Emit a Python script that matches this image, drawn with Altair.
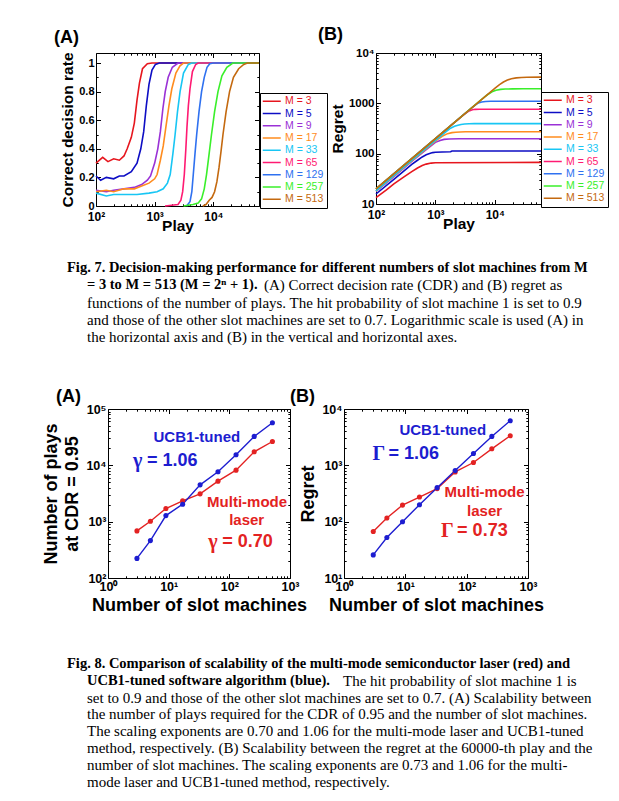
import math
import altair as alt
import pandas as pd

FONT = "Liberation Sans"
SERIF = "Liberation Serif"
RED = "#e32222"
BLUE = "#1d1dd0"

# ---------------- Fig. 7 data ----------------
M_LABELS = ["M = 3", "M = 5", "M = 9", "M = 17", "M = 33", "M = 65", "M = 129", "M = 257", "M = 513"]
M_COLORS = ["#e6161e", "#0d0dc4", "#9a31d6", "#ff8c1e", "#18c6f4", "#ff1a72", "#2f71f0", "#3aef2a", "#c4690f"]

# (A) correct decision rate
CDR_PLAY_3 = [100, 130, 160, 200, 250, 300, 340, 400, 450, 500, 550, 620, 750, 900, 60000]
CDR_3 = [0.30, 0.34, 0.31, 0.33, 0.32, 0.35, 0.40, 0.48, 0.58, 0.74, 0.86, 0.96, 0.995, 1.0, 1.0]
CDR_PLAY_5 = [100, 120, 150, 200, 250, 300, 400, 500, 580, 650, 720, 800, 900, 1030, 1200, 60000]
CDR_5 = [0.21, 0.18, 0.20, 0.19, 0.21, 0.21, 0.24, 0.30, 0.40, 0.52, 0.70, 0.85, 0.95, 0.99, 1.0, 1.0]
CDR_PLAY_9 = [100, 150, 200, 300, 450, 600, 750, 850, 1000, 1130, 1250, 1380, 1513, 1700, 2000, 2500, 60000]
CDR_9 = [0.11, 0.10, 0.11, 0.12, 0.13, 0.15, 0.18, 0.21, 0.30, 0.40, 0.52, 0.68, 0.80, 0.90, 0.97, 1.0, 1.0]
CDR_PLAY_17 = [100, 150, 200, 300, 450, 600, 800, 1000, 1100, 1250, 1400, 1550, 1750, 1960, 2300, 2700, 3100, 60000]
CDR_17 = [0.10, 0.11, 0.10, 0.12, 0.12, 0.14, 0.16, 0.19, 0.22, 0.32, 0.42, 0.55, 0.70, 0.82, 0.93, 0.98, 1.0, 1.0]
CDR_PLAY_33 = [100, 150, 200, 300, 500, 800, 1100, 1400, 1650, 1840, 2050, 2230, 2450, 2710, 3100, 3750, 4300, 60000]
CDR_33 = [0.09, 0.07, 0.08, 0.08, 0.08, 0.09, 0.10, 0.12, 0.16, 0.22, 0.37, 0.50, 0.66, 0.80, 0.93, 0.99, 1.0, 1.0]
CDR_PLAY_65 = [1500, 2500, 2800, 3000, 3200, 3400, 3550, 3750, 4000, 4400, 5000, 5500, 60000]
CDR_65 = [0.0, 0.01, 0.04, 0.10, 0.22, 0.40, 0.55, 0.70, 0.82, 0.94, 0.99, 1.0, 1.0]
CDR_PLAY_129 = [3500, 4000, 4300, 4550, 4900, 5200, 5700, 6300, 7000, 7800, 8700, 10000, 60000]
CDR_129 = [0.0, 0.03, 0.10, 0.22, 0.38, 0.50, 0.66, 0.80, 0.90, 0.97, 0.995, 1.0, 1.0]
CDR_PLAY_257 = [3100, 4500, 5500, 6300, 7000, 7650, 8500, 9300, 10500, 12000, 14000, 17000, 21500, 60000]
CDR_257 = [0.0, 0.01, 0.02, 0.05, 0.12, 0.22, 0.37, 0.50, 0.66, 0.80, 0.91, 0.97, 1.0, 1.0]
CDR_PLAY_513 = [6600, 7500, 8500, 9500, 10500, 11500, 12500, 13500, 14600, 16500, 18900, 22000, 27000, 33000, 38000, 60000]
CDR_513 = [0.0, 0.01, 0.04, 0.06, 0.10, 0.17, 0.27, 0.38, 0.50, 0.66, 0.80, 0.90, 0.96, 0.99, 1.0, 1.0]

# (B) regret
REG_PLAY_3 = [100, 150, 200, 300, 400, 500, 600, 700, 850, 1000, 60000]
REG_3 = [13.4, 19, 25, 35, 44, 52, 58, 62, 65, 66, 67]
REG_PLAY_5 = [100, 200, 300, 400, 500, 600, 700, 800, 900, 1000, 1300, 1800, 1900, 60000]
REG_5 = [15.8, 31, 46, 61, 74, 86, 95, 101, 105, 107, 108, 109, 113, 113]
REG_PLAY_9 = [100, 200, 400, 700, 1000, 1200, 1400, 1700, 2500, 60000]
REG_9 = [17.8, 35, 70, 120, 168, 183, 192, 196, 198, 198]
REG_PLAY_17 = [100, 300, 600, 1000, 1300, 1600, 1900, 2200, 2600, 3200, 60000]
REG_17 = [18, 54, 107, 177, 222, 250, 262, 267, 270, 272, 272]
REG_PLAY_33 = [100, 300, 1000, 1500, 1800, 2100, 2400, 2700, 3100, 3700, 4500, 60000]
REG_33 = [18.2, 55, 183, 270, 320, 350, 368, 380, 388, 393, 395, 395]
REG_PLAY_65 = [100, 1000, 2000, 3000, 3400, 3800, 4200, 4700, 5500, 60000]
REG_65 = [20, 200, 400, 595, 665, 715, 745, 760, 765, 765]
REG_PLAY_129 = [100, 1000, 4000, 4800, 5300, 6000, 7000, 8500, 60000]
REG_129 = [20, 200, 790, 945, 1020, 1065, 1088, 1098, 1100]
REG_PLAY_257 = [100, 1000, 6000, 7500, 9000, 10500, 12500, 15000, 20000, 30000, 60000]
REG_257 = [20, 200, 1200, 1480, 1700, 1820, 1890, 1920, 1940, 1950, 1955]
REG_PLAY_513 = [100, 1000, 10000, 12000, 14000, 16000, 19000, 23000, 28000, 35000, 60000]
REG_513 = [20, 200, 1990, 2350, 2650, 2880, 3080, 3200, 3270, 3300, 3310]

# ---------------- Fig. 8 data ----------------
SLOTS = [3, 5, 9, 17, 33, 65, 129, 257, 513]
PLAYS_LASER = [685, 1018, 1710, 2340, 3118, 5237, 8220, 17400, 26500]
PLAYS_UCB = [223, 461, 1282, 2042, 4508, 7676, 15390, 32600, 57000]
REGRET_LASER = [67, 116, 197, 274, 386, 765, 1122, 1964, 3350]
REGRET_UCB = [25.7, 52.4, 99.5, 200, 402, 807, 1622, 3260, 6200]

ANN_TEXT = ["UCB1-tuned", "Multi-mode", "laser"]
ANN_SERIES = ["ucb", "laser", "laser"]
ANN8A_X = [29.1, 196, 193]
ANN8A_Y = [31500, 2200, 1065]
ANN8B_X = [40.8, 196, 196]
ANN8B_Y = [4300, 341, 155]

EXP_SERIES = ["ucb", "laser"]
EXP8A_GREEK = ["γ", "γ"]
EXP8A_REST = ["= 1.06", "= 0.70"]
EXP8A_X = [2.59, 44.8]
EXP8A_Y = [11780, 427]
EXP8B_GREEK = ["Γ", "Γ"]
EXP8B_REST = ["= 1.06", "= 0.73"]
EXP8B_X = [2.92, 38.3]
EXP8B_Y = [1622, 68]

# ---------------- axis ticks / labels ----------------
X7_TICKS = [100, 1000, 10000]
X7_LABELS = ["10²", "10³", "10⁴"]
Y7A_TICKS = [0, 0.2, 0.4, 0.6, 0.8, 1.0]
Y7A_LABELS = ["0", "0.2", "0.4", "0.6", "0.8", "1"]
Y7B_TICKS = [10, 100, 1000, 10000]
Y7B_LABELS = ["10", "100", "1000", "10⁴"]
X8_TICKS = [1, 10, 100, 1000]
X8_LABELS = ["10⁰", "10¹", "10²", "10³"]
Y8A_TICKS = [100, 1000, 10000, 100000]
Y8A_LABELS = ["10²", "10³", "10⁴", "10⁵"]
Y8B_TICKS = [10, 100, 1000, 10000]
Y8B_LABELS = ["10¹", "10²", "10³", "10⁴"]

# ---------------- captions ----------------
CAP7_BOLD = ["Fig. 7. Decision-making performance for different numbers of slot machines from M",
             "= 3 to M = 513 (M = 2ⁿ + 1)."]
CAP7_REGULAR = ["(A) Correct decision rate (CDR) and (B) regret as",
                "functions of the number of plays. The hit probability of slot machine 1 is set to 0.9",
                "and those of the other slot machines are set to 0.7. Logarithmic scale is used (A) in",
                "the horizontal axis and (B) in the vertical and horizontal axes."]
CAP8_BOLD = ["Fig. 8. Comparison of scalability of the multi-mode semiconductor laser (red) and",
             "UCB1-tuned software algorithm (blue)."]
CAP8_REGULAR = ["The hit probability of slot machine 1 is",
                "set to 0.9 and those of the other slot machines are set to 0.7. (A) Scalability between",
                "the number of plays required for the CDR of 0.95 and the number of slot machines.",
                "The scaling exponents are 0.70 and 1.06 for the multi-mode laser and UCB1-tuned",
                "method, respectively. (B) Scalability between the regret at the 60000-th play and the",
                "number of slot machines. The scaling exponents are 0.73 and 1.06 for the multi-",
                "mode laser and UCB1-tuned method, respectively."]


def log_ticks(lo, hi):
    vals = []
    e = math.floor(math.log10(lo))
    while 10 ** e <= hi:
        for m in range(1, 10):
            v = m * 10 ** e
            if lo <= v <= hi:
                vals.append(v)
        e += 1
    return vals


LOG_MAJOR = "abs(log(datum.value)/LN10 - round(log(datum.value)/LN10)) < 0.000001"
LIN_MAJOR = "abs(datum.value*5 - round(datum.value*5)) < 0.000001"


def label_axis(orient, values, labels, size, title, tsize, tpad, lpad=2, lineheight=None):
    expr = " : ".join(f"datum.value == {v} ? '{l}'" for v, l in zip(values, labels)) + " : ''"
    kw = dict(orient=orient, values=values, labelExpr=expr, ticks=False, domain=False, grid=False,
              labelFont=FONT, labelFontSize=size, labelFontWeight="bold", labelColor="black",
              labelPadding=lpad, labelOverlap=False, labelFlush=False,
              title=title, titleFont=FONT, titleFontSize=tsize, titleFontWeight="bold",
              titleColor="black", titlePadding=tpad)
    if lineheight:
        kw["titleLineHeight"] = lineheight
    return alt.Axis(**kw)


def tick_axis(orient, offset, values, test, major=4.5, minor=2.2):
    return alt.Axis(orient=orient, offset=offset, values=values, labels=False, ticks=True,
                    tickColor="black", tickWidth=1,
                    tickSize={"condition": {"test": test, "value": major}, "value": minor},
                    domain=True, domainColor="black", domainWidth=1, grid=False, title=None)


def framed(data_layers, xs, ys, xdom, ydom, w, h, xaxis, yaxis, xall, yall, xtest, ytest, title, dx, toff):
    fdf = pd.DataFrame({"fx": xdom, "fy": ydom})
    base = alt.Chart(fdf).mark_point(opacity=0)
    lab = base.encode(x=alt.X("fx:Q", scale=xs, axis=xaxis), y=alt.Y("fy:Q", scale=ys, axis=yaxis))
    in1 = base.encode(x=alt.X("fx:Q", scale=xs, axis=tick_axis("top", -h, xall, xtest)),
                      y=alt.Y("fy:Q", scale=ys, axis=tick_axis("right", -w, yall, ytest)))
    in2 = base.encode(x=alt.X("fx:Q", scale=xs, axis=tick_axis("bottom", -h, xall, xtest)),
                      y=alt.Y("fy:Q", scale=ys, axis=tick_axis("left", -w, yall, ytest)))
    return alt.layer(lab, in1, in2, *data_layers).resolve_axis(
        x="independent", y="independent").properties(
        width=w, height=h,
        title=alt.TitleParams(title, anchor="start", frame="group", dx=dx, offset=toff,
                              font=FONT, fontSize=18, fontWeight="bold", color="black"))


def m_legend(lx, ly):
    expr = " : ".join(f"datum.label == '{l}' ? '{c}'" for l, c in zip(M_LABELS, M_COLORS)) + " : 'black'"
    return alt.Legend(orient="none", legendX=lx, legendY=ly, title=None,
                      symbolType="M-3,0H3", symbolSize=36, symbolStrokeWidth=1.5, symbolOffset=3.5,
                      labelFont=FONT, labelFontSize=10.5, labelColor=alt.ExprRef(expr), labelOffset=8,
                      rowPadding=1.25, padding=3, strokeColor="black", fillColor="white")


def long_df(plays, vals):
    rows = []
    for lab, p, v in zip(M_LABELS, plays, vals):
        for a, b in zip(p, v):
            rows.append({"play": a, "value": b, "M": lab})
    return pd.DataFrame(rows)


# ---------------- Fig 7 panels ----------------
X7_DOM = [100, 60000]
X7_ALL = log_ticks(100, 60000)
xs7 = alt.Scale(type="log", domain=X7_DOM)
mcolor_scale = alt.Scale(domain=M_LABELS, range=M_COLORS)

W7A, H7A = 163, 153
df7a = long_df([CDR_PLAY_3, CDR_PLAY_5, CDR_PLAY_9, CDR_PLAY_17, CDR_PLAY_33, CDR_PLAY_65,
                CDR_PLAY_129, CDR_PLAY_257, CDR_PLAY_513],
               [CDR_3, CDR_5, CDR_9, CDR_17, CDR_33, CDR_65, CDR_129, CDR_257, CDR_513])
ys7a = alt.Scale(domain=[0, 1.07])
lines7a = alt.Chart(df7a).mark_line(strokeWidth=1.6).encode(
    x=alt.X("play:Q", scale=xs7, axis=None),
    y=alt.Y("value:Q", scale=ys7a, axis=None),
    color=alt.Color("M:N", scale=mcolor_scale, legend=m_legend(W7A + 1, H7A - 113)))
p7a = framed([lines7a], xs7, ys7a, X7_DOM, [0, 1.07], W7A, H7A,
             label_axis("bottom", X7_TICKS, X7_LABELS, 12, "Play", 15.5, -4, lpad=5),
             label_axis("left", Y7A_TICKS, Y7A_LABELS, 11, "Correct decision rate", 15.5, 3),
             X7_ALL, [round(i * 0.1, 1) for i in range(11)], LOG_MAJOR, LIN_MAJOR, "(A)", -42, 3)

W7B, H7B = 165, 151
df7b = long_df([REG_PLAY_3, REG_PLAY_5, REG_PLAY_9, REG_PLAY_17, REG_PLAY_33, REG_PLAY_65,
                REG_PLAY_129, REG_PLAY_257, REG_PLAY_513],
               [REG_3, REG_5, REG_9, REG_17, REG_33, REG_65, REG_129, REG_257, REG_513])
ys7b = alt.Scale(type="log", domain=[10, 10000])
lines7b = alt.Chart(df7b).mark_line(strokeWidth=1.6).encode(
    x=alt.X("play:Q", scale=xs7, axis=None),
    y=alt.Y("value:Q", scale=ys7b, axis=None),
    color=alt.Color("M:N", scale=mcolor_scale, legend=m_legend(W7B, H7B - 112)))
p7b = framed([lines7b], xs7, ys7b, X7_DOM, [10, 10000], W7B, H7B,
             label_axis("bottom", X7_TICKS, X7_LABELS, 12, "Play", 15.5, -4, lpad=5),
             label_axis("left", Y7B_TICKS, Y7B_LABELS, 11.5, "Regret", 15.5, 3),
             X7_ALL, log_ticks(10, 10000), LOG_MAJOR, LOG_MAJOR, "(B)", -58, 3)

# ---------------- Fig 8 panels ----------------
series_color = alt.Scale(domain=["laser", "ucb"], range=[RED, BLUE])
xs8 = alt.Scale(type="log", domain=[1, 1000])
X8_ALL = log_ticks(1, 1000)


def fig8_layers(yvals_laser, yvals_ucb, ys, ann_x, ann_y, exp_greek, exp_rest, exp_x, exp_y, greek_dx):
    df = pd.DataFrame({"slots": SLOTS + SLOTS, "value": yvals_laser + yvals_ucb,
                       "series": ["laser"] * len(SLOTS) + ["ucb"] * len(SLOTS)})
    col = alt.Color("series:N", scale=series_color, legend=None)
    enc = dict(x=alt.X("slots:Q", scale=xs8, axis=None), y=alt.Y("value:Q", scale=ys, axis=None), color=col)
    ln = alt.Chart(df).mark_line(strokeWidth=1.4).encode(**enc)
    pt = alt.Chart(df).mark_point(filled=True, size=26, opacity=1).encode(**enc)
    ann = pd.DataFrame({"ax": ann_x, "ay": ann_y, "text": ANN_TEXT, "series": ANN_SERIES})
    tx = alt.Chart(ann).mark_text(font=FONT, fontSize=15, fontWeight="bold", align="center",
                                  baseline="middle").encode(
        x=alt.X("ax:Q", scale=xs8, axis=None), y=alt.Y("ay:Q", scale=ys, axis=None),
        text="text:N", color=col)
    ex = pd.DataFrame({"ex": exp_x, "ey": exp_y, "greek": exp_greek, "rest": exp_rest, "series": EXP_SERIES})
    g = alt.Chart(ex).mark_text(font=SERIF, fontSize=20, fontWeight="bold", align="left",
                                baseline="middle").encode(
        x=alt.X("ex:Q", scale=xs8, axis=None), y=alt.Y("ey:Q", scale=ys, axis=None),
        text="greek:N", color=col)
    r = alt.Chart(ex).mark_text(font=FONT, fontSize=18, fontWeight="bold", align="left",
                                baseline="middle", dx=greek_dx).encode(
        x=alt.X("ex:Q", scale=xs8, axis=None), y=alt.Y("ey:Q", scale=ys, axis=None),
        text="rest:N", color=col)
    return [ln, pt, tx, g, r]


W8A, H8A = 182, 169
ys8a = alt.Scale(type="log", domain=[100, 100000])
p8a = framed(fig8_layers(PLAYS_LASER, PLAYS_UCB, ys8a, ANN8A_X, ANN8A_Y, EXP8A_GREEK, EXP8A_REST,
                         EXP8A_X, EXP8A_Y, 14),
             xs8, ys8a, [1, 1000], [100, 100000], W8A, H8A,
             label_axis("bottom", X8_TICKS, X8_LABELS, 12.5, "Number of slot machines", 18, 4),
             label_axis("left", Y8A_TICKS, Y8A_LABELS, 12.5, ["Number of plays", "at CDR = 0.95"], 18, 4,
                        lineheight=21),
             X8_ALL, log_ticks(100, 100000), LOG_MAJOR, LOG_MAJOR, "(A)", -52, -3)

W8B, H8B = 184, 169
ys8b = alt.Scale(type="log", domain=[10, 10000])
p8b = framed(fig8_layers(REGRET_LASER, REGRET_UCB, ys8b, ANN8B_X, ANN8B_Y, EXP8B_GREEK, EXP8B_REST,
                         EXP8B_X, EXP8B_Y, 16),
             xs8, ys8b, [1, 1000], [10, 10000], W8B, H8B,
             label_axis("bottom", X8_TICKS, X8_LABELS, 12.5, "Number of slot machines", 18, 4),
             label_axis("left", Y8B_TICKS, Y8B_LABELS, 12.5, "Regret", 18, 4),
             X8_ALL, log_ticks(10, 10000), LOG_MAJOR, LOG_MAJOR, "(B)", -54, -3)


# ---------------- layout helpers ----------------
def spacer(w, h=1):
    return alt.Chart(pd.DataFrame({"v": [0]})).mark_point(opacity=0).encode(
        x=alt.X("v:Q", axis=None), y=alt.Y("v:Q", axis=None)).properties(width=w, height=h)


def caption(bold, regular, width, height, y0, lh, first_x, hang_x, cont_x):
    rows = [{"line": 0, "text": bold[0], "w": "bold", "slot": "first"},
            {"line": 1, "text": bold[1], "w": "bold", "slot": "hang"},
            {"line": 1, "text": regular[0], "w": "normal", "slot": "cont"}]
    for i, t in enumerate(regular[1:]):
        rows.append({"line": i + 2, "text": t, "w": "normal", "slot": "hang"})
    df = pd.DataFrame(rows)
    n = int(df["line"].max())
    ysc = alt.Scale(domain=[0, n], range=[y0, y0 + lh * n], nice=False, zero=False)
    pos = {"first": first_x, "hang": hang_x, "cont": cont_x}
    size = {"bold": 14.5, "normal": 15}
    layers = []
    for slot in ["first", "hang", "cont"]:
        for wgt in ["bold", "normal"]:
            sub = df[(df.slot == slot) & (df.w == wgt)]
            if len(sub) == 0:
                continue
            layers.append(alt.Chart(sub).mark_text(
                font=SERIF, fontSize=size[wgt], fontWeight=wgt, align="left", baseline="middle",
                color="black").encode(
                x=alt.value(pos[slot]),
                y=alt.Y("line:Q", scale=ysc, axis=None),
                text="text:N"))
    return alt.layer(*layers).properties(width=width, height=height)


inner1 = alt.hconcat(p7a, p7b, spacing=117, bounds="flush").resolve_scale(color="independent")
row1 = alt.hconcat(spacer(87, 200), inner1, spacing=0, bounds="flush").resolve_scale(color="independent")
inner3 = alt.hconcat(p8a, p8b, spacing=54, bounds="flush").resolve_scale(color="independent")
row3 = alt.hconcat(spacer(99, 222), inner3, spacing=0, bounds="flush").resolve_scale(color="independent")
cap7 = caption(CAP7_BOLD, CAP7_REGULAR, 595, 131, 13, 17.35, 58, 78, 255)
cap8 = caption(CAP8_BOLD, CAP8_REGULAR, 595, 163, 30.7, 16.9, 58, 78, 334)

chart = alt.vconcat(row1, cap7, row3, cap8, spacing=0).resolve_scale(color="independent").properties(
    padding={"left": 0, "top": 17, "right": 0, "bottom": 0},
    background="white").configure_view(stroke="transparent")

chart.save("out.html", embed_options={"renderer": "svg", "actions": False})
